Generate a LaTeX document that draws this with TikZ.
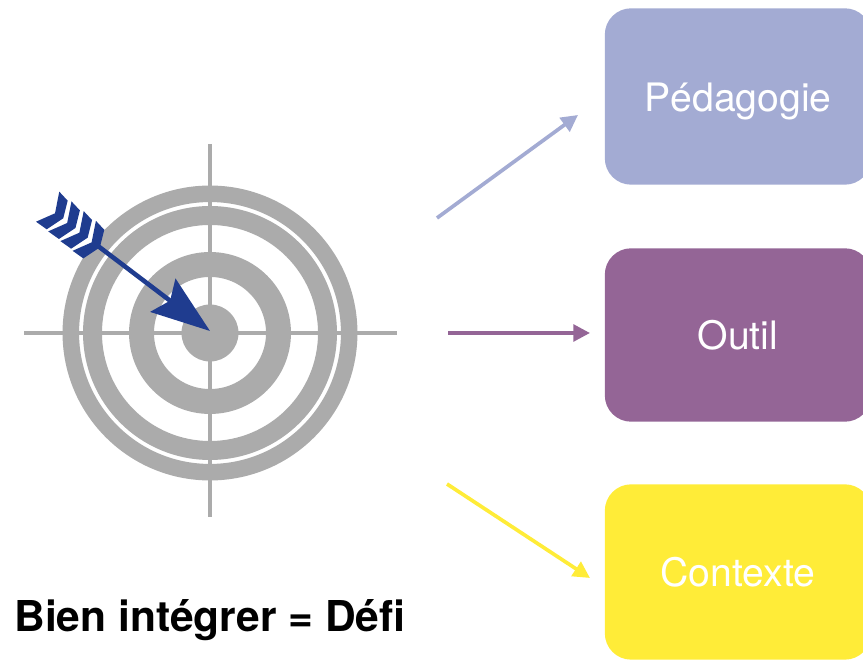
\documentclass[tikz,border=0pt]{standalone}
\usepackage{fontspec}
\setmainfont{TeX Gyre Heros}
\usetikzlibrary{arrows.meta}
\definecolor{ringgray}{HTML}{ABABAB}
\definecolor{arrowblue}{HTML}{1F3C8F}
\definecolor{pedablue}{HTML}{A3ABD3}
\definecolor{outilpurple}{HTML}{946596}
\definecolor{contexteyellow}{HTML}{FFEC38}
\tikzset{
  ring/.style={draw=ringgray},
  crossline/.style={draw=ringgray,line width=1.9pt},
  chevron/.style={fill=arrowblue},
  choicebox/.style={rounded corners=15pt,minimum width=151.6pt,text height=17pt,text depth=0pt,
    text=white,font=\fontsize{22.3}{24}\selectfont},
  linkarrow/.style={line width=2.1pt,-{Triangle[length=9.5pt,width=9.5pt]}},
}
\begin{document}
\begin{tikzpicture}[x=0.02cm,y=-0.02cm]
  \useasboundingbox (0,0) rectangle (863,661);
  % target
  \draw[ring,line width=9.4pt] (210,333) circle (139.2);
  \draw[ring,line width=10.8pt] (210,333) circle (117.5);
  \draw[ring,line width=14.2pt] (210,333) circle (68.5);
  \fill[ringgray] (210,333) circle (28.5);
  \draw[crossline] (24,333) -- (397,333);
  \draw[crossline] (210,144) -- (210,517);
  % arrow in the target
  \foreach \i in {0,1,2,3} {
    \fill[chevron,shift={(12.2*\i,9.7*\i)}] (59.3,191.7) -- (67.7,200.7) -- (63.3,218.3)
      -- (46.7,229.3) -- (36,221.7) -- (55,213.3) -- cycle;
  }
  \coordinate (tail) at (98,246);
  \coordinate (tip) at (210,331);
  \draw[arrowblue,line width=2.6pt,-{Stealth[length=33.5pt,width=23.5pt,inset=5pt]}] (tail) -- (tip);
  % boxes
  \node[choicebox,minimum height=100.4pt,fill=pedablue] (peda) at (738,96.5) {Pédagogie};
  \node[choicebox,minimum height=98.7pt,fill=outilpurple] (outil) at (738,335) {Outil};
  \node[choicebox,minimum height=99.8pt,fill=contexteyellow] (contexte) at (738,572) {Contexte};
  % arrows to the boxes
  \coordinate (pedastart) at (437,218);
  \coordinate (pedaend) at (578,115);
  \coordinate (outilstart) at (448,333);
  \coordinate (outilend) at (590,333);
  \coordinate (contextestart) at (447,484);
  \coordinate (contexteend) at (590,578);
  \draw[linkarrow,pedablue] (pedastart) -- (pedaend);
  \draw[linkarrow,outilpurple] (outilstart) -- (outilend);
  \draw[linkarrow,contexteyellow] (contextestart) -- (contexteend);
  \node[anchor=west,inner sep=0pt,font=\bfseries\fontsize{24.2}{28}\selectfont] (title) at (14,620) {Bien intégrer = Défi};
\end{tikzpicture}
\end{document}
